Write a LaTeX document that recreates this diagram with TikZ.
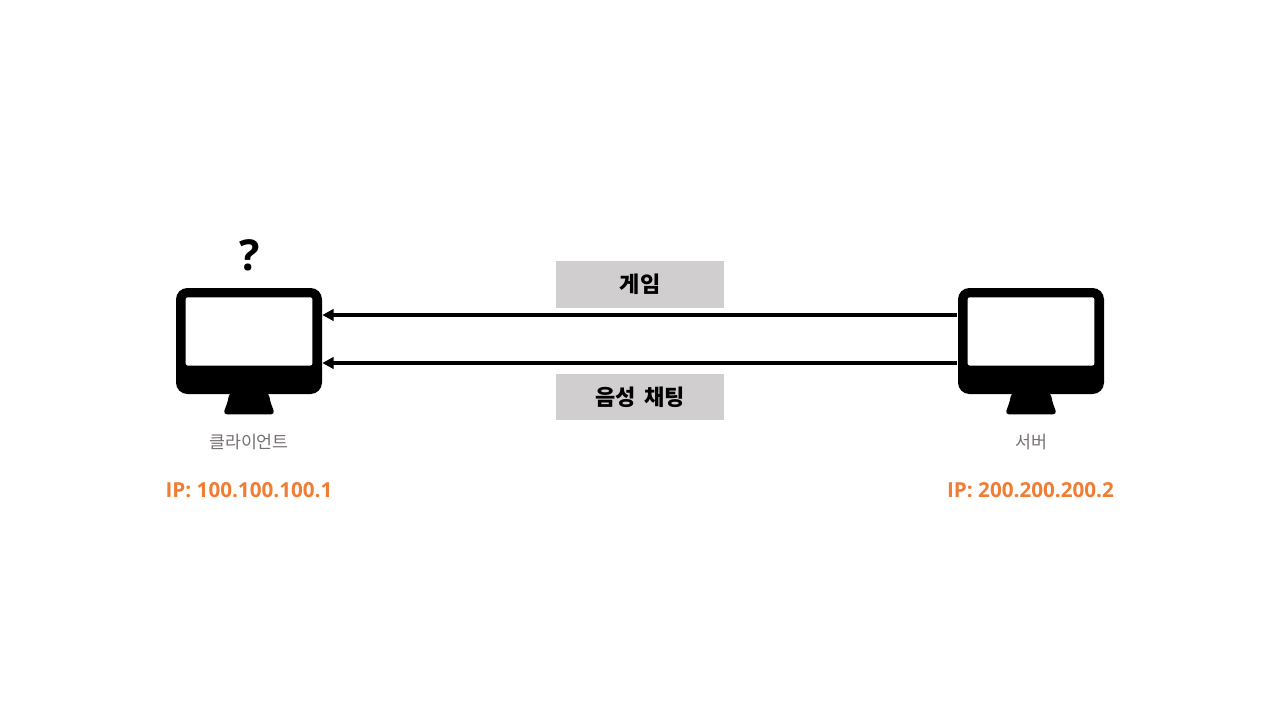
\documentclass[tikz,border=0pt]{standalone}
\usepackage{fontspec}
\setmainfont{Noto Sans CJK KR}
\newfontfamily\latinfont{Open Sans}
\usepackage{tikz}
\usetikzlibrary{arrows.meta,positioning}
\definecolor{boxgray}{RGB}{208,206,206}
\definecolor{ipcolor}{RGB}{241,124,52}
\definecolor{namegray}{RGB}{118,113,113}
\tikzset{
  screenbody/.style={fill=black,rounded corners=8.5pt,minimum width=109.5pt,minimum height=79.5pt,inner sep=0pt},
  msgbox/.style={fill=boxgray,minimum width=126pt,minimum height=35pt,inner sep=0pt,font=\fontsize{16.5}{16.5}\selectfont\bfseries},
  flow/.style={line width=3pt,-{Triangle[length=8.5pt,width=8.5pt]},shorten <=0.75pt},
  hostname/.style={text=namegray,font=\fontsize{13}{13}\selectfont},
  ipaddr/.style={text=ipcolor,font=\latinfont\bfseries\fontsize{15.5}{15.5}\selectfont},
}
\begin{document}
\begin{tikzpicture}[x=0.75pt,y=-0.75pt]
\useasboundingbox (0,0) rectangle (1280,720);
% monitors
\node[screenbody] (client) at (249,341) {};
\node[screenbody] (server) at (1031,341) {};
\foreach \host in {client,server}{
  \fill[white,rounded corners=1.5pt] ([shift={(10,-43.7)}]\host.west) rectangle ([shift={(-10,24.5)}]\host.east);
  \fill[rounded corners=2.5pt] ([shift={(-20,-1)}]\host.south) .. controls ([shift={(-21,8)}]\host.south) and ([shift={(-24,14)}]\host.south) .. ([shift={(-25.5,20)}]\host.south)
    -- ([shift={(25.5,20)}]\host.south) .. controls ([shift={(24,14)}]\host.south) and ([shift={(21,8)}]\host.south) .. ([shift={(20,-1)}]\host.south) -- cycle;
}
\node[font=\latinfont\bfseries\fontsize{32}{32}\selectfont] (mark) at (250,255.5) {?};
% labels
\node[hostname] (clientname) at (249,442.5) {클라이언트};
\node[hostname] (servername) at (1031,442.5) {서버};
\node[ipaddr] (clientip) at (249,490) {IP: 100.100.100.1};
\node[ipaddr] (serverip) at (1030.5,490) {IP: 200.200.200.2};
% messages
\node[msgbox] (game) at (640,284.5) {게임};
\node[msgbox] (voice) at (640,397) {음성\hspace{3pt} 채팅};
\draw[flow] ([yshift=19.5pt]server.west) -- ([yshift=19.5pt]client.east);
\draw[flow] ([yshift=-16.5pt]server.west) -- ([yshift=-16.5pt]client.east);
\end{tikzpicture}
\end{document}
